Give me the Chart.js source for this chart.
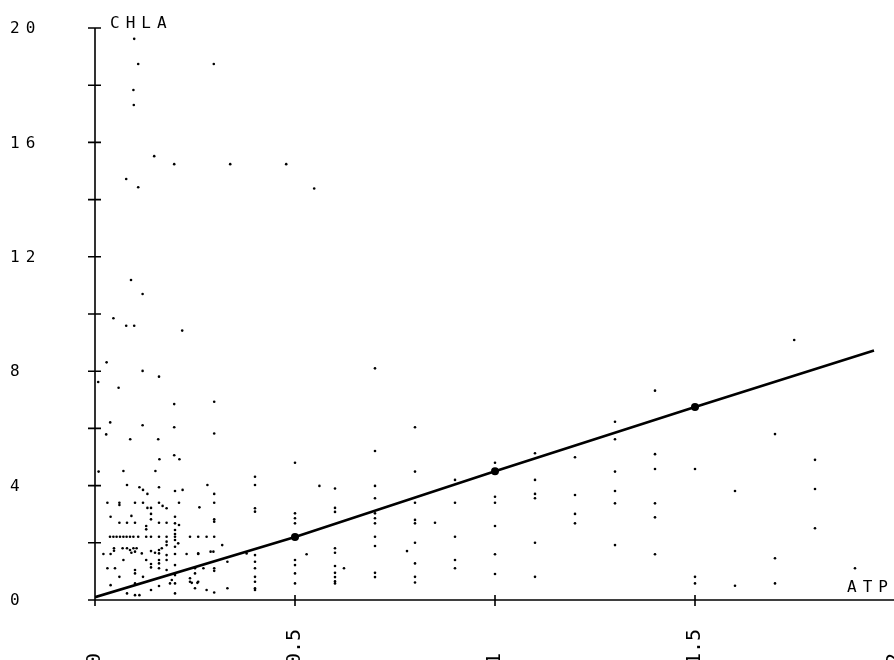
<!DOCTYPE html>
<html>
<head>
<meta charset="utf-8">
<script src="https://cdn.jsdelivr.net/npm/chart.js@4/dist/chart.umd.min.js"></script>
<style>
  html, body { margin: 0; padding: 0; background: #fff; overflow: hidden; }
  #wrap { position: relative; width: 900px; height: 660px; }
</style>
</head>
<body>
<div id="wrap"><canvas id="chart" width="900" height="660"></canvas></div>
<script>
// ── Axis ticks & labels ──
const xTickValues = [0, 0.5, 1, 1.5, 2];
const xTickLabels = ['0', '0.5', '1', '1.5', '2'];
const yTickValues = [0, 2, 4, 6, 8, 10, 12, 14, 16, 18, 20];
const yLabelValues = [0, 4, 8, 12, 16, 20];
const yTickLabels = ['0', '4', '8', '12', '16', '20'];
const xTitle = 'ATP';
const yTitle = 'CHLA';

// ── Observations (ATP, CHLA) ──
const atp = [
  0.098, 0.108, 0.297, 0.096, 0.097, 0.148, 0.198, 0.338, 0.478, 0.078, 0.108, 0.548,
  0.09, 0.119, 0.046, 0.078, 0.098, 0.218, 0.029, 0.119, 0.16, 0.008, 0.059, 0.198, 0.298,
  0.038, 0.119, 0.198, 0.298, 0.028, 0.088, 0.158, 0.7, 1.748, 1.4,
  0.161, 0.198, 0.211, 0.009, 0.071, 0.151, 0.4,
  0.08, 0.111, 0.12, 0.131, 0.16, 0.2, 0.219, 0.031, 0.061, 0.061, 0.1, 0.12, 0.131, 0.14,
  0.16, 0.169, 0.179, 0.21, 0.14, 0.14, 0.039, 0.061, 0.08, 0.091, 0.1, 0.128, 0.128,
  0.16, 0.179, 0.2, 0.2, 0.2, 0.2, 0.21,
  0.0375, 0.046, 0.054, 0.0625, 0.071, 0.079, 0.0875, 0.096, 0.108,
  0.128, 0.14, 0.16, 0.179, 0.2, 0.2375, 0.179, 0.179, 0.2, 0.208,
  0.021, 0.039, 0.0475, 0.0475, 0.069, 0.08, 0.0875, 0.096, 0.104, 0.091, 0.1, 0.117,
  0.14, 0.15, 0.16, 0.16, 0.167, 0.179, 0.229, 0.258, 0.2, 0.2,
  0.071, 0.128, 0.14, 0.16, 0.16, 0.179, 0.2, 0.031, 0.05, 0.1, 0.1, 0.14, 0.16, 0.179,
  0.061, 0.12, 0.192, 0.2, 0.2375, 0.25, 0.242, 0.256, 0.039, 0.1, 0.16, 0.1875, 0.2,
  0.08, 0.1, 0.111, 0.14, 0.2,
  0.281, 0.298, 0.298, 0.261, 0.298, 0.298, 0.4, 0.4, 0.4,
  0.258, 0.279, 0.298, 0.318, 0.258, 0.289, 0.296, 0.379, 0.4,
  0.331, 0.4, 0.4, 0.4, 0.4, 0.4, 0.4, 0.298, 0.298, 0.271, 0.25,
  0.2375, 0.258, 0.25, 0.279, 0.298, 0.331,
  0.5, 0.5, 0.5, 0.5, 0.5, 0.5, 0.5, 0.5,
  0.529, 0.561, 0.6, 0.6, 0.6, 0.6, 0.6, 0.6, 0.6, 0.6, 0.6, 0.6, 0.6225,
  0.7, 0.7, 0.7, 0.7, 0.7, 0.7, 0.7, 0.7, 0.7, 0.7,
  0.8, 0.8, 0.8, 0.8, 0.8, 0.8, 0.8, 0.8, 0.8, 0.78, 0.85,
  0.9, 0.9, 0.9, 0.9, 0.9,
  1.0, 1.0, 1.0, 1.0, 1.0, 1.0,
  1.1, 1.1, 1.1, 1.1, 1.1, 1.1,
  1.2, 1.2, 1.2, 1.2,
  1.3, 1.3, 1.3, 1.3, 1.3, 1.3,
  1.4, 1.4, 1.4, 1.4, 1.4,
  1.5, 1.5, 1.5, 1.6, 1.6, 1.7, 1.7, 1.7, 1.8, 1.8, 1.8, 1.9
];
const chla = [
  19.62, 18.74, 18.74, 17.83, 17.31, 15.52, 15.24, 15.24, 15.24, 14.72, 14.43, 14.39,
  11.19, 10.70, 9.85, 9.59, 9.59, 9.42, 8.31, 8.01, 7.81, 7.62, 7.42, 6.85, 6.93,
  6.21, 6.11, 6.04, 5.82, 5.79, 5.62, 5.62, 8.10, 9.09, 7.32,
  4.92, 5.06, 4.92, 4.49, 4.51, 4.51, 4.31,
  4.02, 3.94, 3.85, 3.71, 3.94, 3.81, 3.85, 3.40, 3.40, 3.32, 3.40, 3.40, 3.22, 3.22,
  3.40, 3.29, 3.21, 3.40, 3.01, 2.82, 2.91, 2.70, 2.70, 2.94, 2.70, 2.59, 2.47,
  2.70, 2.70, 2.91, 2.68, 2.45, 2.31, 2.62,
  2.21, 2.21, 2.21, 2.21, 2.21, 2.21, 2.21, 2.21, 2.21,
  2.21, 2.21, 2.21, 2.21, 2.21, 2.21, 2.04, 1.92, 2.10, 1.98,
  1.61, 1.61, 1.81, 1.72, 1.81, 1.81, 1.75, 1.81, 1.81, 1.65, 1.69, 1.63,
  1.71, 1.65, 1.75, 1.63, 1.81, 1.57, 1.61, 1.61, 1.86, 1.61,
  1.40, 1.40, 1.26, 1.40, 1.28, 1.40, 1.22, 1.11, 1.11, 1.05, 0.93, 1.14, 1.11, 1.05,
  0.81, 0.81, 0.70, 0.87, 0.76, 0.93, 0.60, 0.60, 0.52, 0.58, 0.49, 0.58, 0.58,
  0.23, 0.17, 0.17, 0.35, 0.23,
  4.02, 3.71, 3.40, 3.24, 2.82, 2.74, 4.02, 3.21, 3.09,
  2.21, 2.21, 2.21, 1.92, 1.63, 1.69, 1.69, 1.63, 1.57,
  1.34, 1.34, 1.11, 0.81, 0.64, 0.41, 0.35, 1.11, 1.02, 1.11, 1.11,
  0.64, 0.64, 0.41, 0.35, 0.26, 0.41,
  4.80, 3.03, 2.86, 2.68, 1.40, 1.22, 0.93, 0.58,
  1.60, 3.99, 3.90, 3.22, 3.08, 1.81, 1.65, 1.19, 0.95, 0.80, 0.65, 0.58, 1.11,
  5.21, 3.99, 3.56, 3.03, 2.86, 2.68, 2.21, 1.89, 0.95, 0.80,
  6.04, 4.49, 3.40, 2.80, 2.68, 2.00, 1.28, 0.81, 0.61, 1.71, 2.70,
  4.20, 3.40, 2.21, 1.40, 1.11,
  4.80, 3.61, 3.40, 2.59, 1.60, 0.91,
  5.13, 4.20, 3.71, 3.56, 2.00, 0.81,
  4.99, 3.67, 3.01, 2.68,
  6.23, 5.62, 4.49, 3.81, 3.38, 1.92,
  5.10, 4.58, 3.38, 2.89, 1.60,
  4.58, 0.81, 0.58, 3.81, 0.50, 5.80, 1.46, 0.58, 4.90, 3.88, 2.51, 1.11
];

// ── Fitted line ──
const fitAtp = [0, 0.5, 1, 1.5, 1.9475];
const fitChla = [0.1, 2.2, 4.5, 6.75, 8.72];
const fitMarkerRadius = [0, 4, 4, 4, 0];

const FONT = '"DejaVu Sans Mono", "Liberation Mono", monospace';

// ── Plotter-style axes, drawn from the chart's own scales ──
const plotterAxes = {
  id: 'plotterAxes',
  beforeDatasetsDraw(chart) {
    const { ctx, chartArea: a, scales: { x, y } } = chart;
    ctx.save();
    ctx.strokeStyle = '#000';
    ctx.lineWidth = 1.6;
    ctx.beginPath();
    ctx.moveTo(a.left, y.getPixelForValue(20));
    ctx.lineTo(a.left, y.getPixelForValue(0));
    ctx.lineTo(a.right, y.getPixelForValue(0));
    yTickValues.forEach(v => {
      const py = y.getPixelForValue(v);
      ctx.moveTo(a.left - 7, py);
      ctx.lineTo(a.left + 6, py);
    });
    xTickValues.forEach(v => {
      const px = x.getPixelForValue(v);
      ctx.moveTo(px, a.bottom - 5);
      ctx.lineTo(px, a.bottom + 6);
    });
    ctx.stroke();

    ctx.fillStyle = '#000';
    ctx.font = '16px ' + FONT;
    ctx.letterSpacing = '6px';
    ctx.textBaseline = 'middle';
    ctx.textAlign = 'left';
    yLabelValues.forEach((v, i) => {
      ctx.fillText(yTickLabels[i], 10, y.getPixelForValue(v) + 1);
    });

    ctx.textBaseline = 'alphabetic';
    ctx.fillText(yTitle, a.left + 15, a.top);
    ctx.fillText(xTitle, a.right - 48, a.bottom - 8);

    ctx.letterSpacing = '0px';
    ctx.font = '20px ' + FONT;
    ctx.textBaseline = 'middle';
    xTickValues.forEach((v, i) => {
      ctx.save();
      ctx.translate(x.getPixelForValue(v), a.bottom + 65);
      ctx.rotate(-Math.PI / 2);
      ctx.fillText(xTickLabels[i], 0, 0);
      ctx.restore();
    });
    ctx.restore();
  }
};

new Chart(document.getElementById('chart'), {
  type: 'scatter',
  data: {
    datasets: [
      {
        type: 'line',
        data: fitAtp.map((v, i) => ({ x: v, y: fitChla[i] })),
        borderColor: '#000',
        borderWidth: 2.6,
        pointRadius: fitMarkerRadius,
        pointBackgroundColor: '#000',
        pointBorderWidth: 0,
        tension: 0,
        fill: false
      },
      {
        data: atp.map((v, i) => ({ x: v, y: chla[i] })),
        pointRadius: 1.3,
        pointBackgroundColor: '#000',
        pointBorderWidth: 0
      }
    ]
  },
  options: {
    responsive: false,
    devicePixelRatio: 1,
    animation: false,
    layout: { padding: { left: 95, right: 5, top: 28, bottom: 60 } },
    scales: {
      x: { type: 'linear', min: 0, max: 2, display: false },
      y: { type: 'linear', min: 0, max: 20, display: false }
    },
    plugins: { legend: { display: false }, tooltip: { enabled: false } }
  },
  plugins: [plotterAxes]
});
</script>
</body>
</html>
